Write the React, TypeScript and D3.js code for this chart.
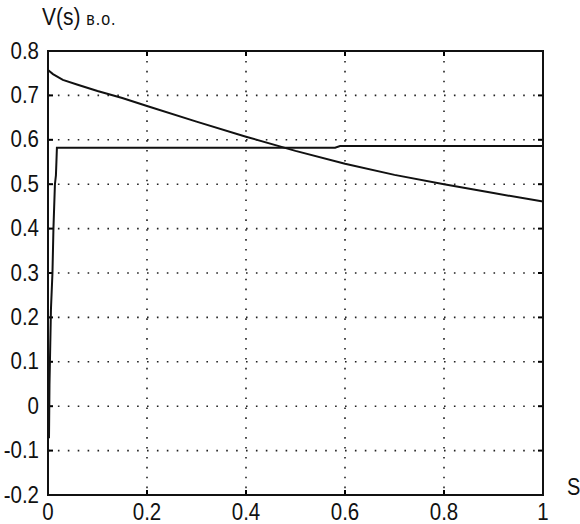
import React from "react";
import * as d3 from "d3";

const xTicks = [0, 0.2, 0.4, 0.6, 0.8, 1];
const yTicks = [-0.2, -0.1, 0, 0.1, 0.2, 0.3, 0.4, 0.5, 0.6, 0.7, 0.8];
const xTickLabels = ["0", "0.2", "0.4", "0.6", "0.8", "1"];
const yTickLabels = ["-0.2", "-0.1", "0", "0.1", "0.2", "0.3", "0.4", "0.5", "0.6", "0.7", "0.8"];

// falling curve
const fallS = [0, 0.01, 0.03, 0.06, 0.1, 0.15, 0.2, 0.3, 0.4, 0.5, 0.6, 0.7, 0.8, 0.9, 1.0];
const fallV = [0.757, 0.748, 0.735, 0.724, 0.71, 0.694, 0.676, 0.641, 0.607, 0.575, 0.546, 0.521, 0.5, 0.48, 0.461];

// rising (step) curve
const stepS = [0.002, 0.003, 0.006, 0.009, 0.011, 0.014, 0.016, 0.017, 0.018, 0.3, 0.58, 0.59, 1.0];
const stepV = [-0.072, 0.05, 0.22, 0.3, 0.4, 0.5, 0.52, 0.55, 0.582, 0.582, 0.582, 0.586, 0.586];

const W = 580;
const H = 524;
const L = 48, R = 543, T = 51, B = 495;

export default function App() {
  const x = d3.scaleLinear().domain([0, 1]).range([L, R]);
  const y = d3.scaleLinear().domain([-0.2, 0.8]).range([B, T]);
  const line = d3.line<[number, number]>().x((d) => x(d[0])).y((d) => y(d[1]));
  const fall = line(fallS.map((s, i) => [s, fallV[i]] as [number, number])) || "";
  const step = line(stepS.map((s, i) => [s, stepV[i]] as [number, number])) || "";
  const font = "'Liberation Sans', Arial, sans-serif";
  const fs = 20.5;
  return (
    <svg width={W} height={H} style={{ position: "absolute", left: 0, top: 0, background: "#fff" }}>
      <rect x={0} y={0} width={W} height={H} fill="#fff" />
      {/* grid */}
      {xTicks.slice(1, -1).map((t) => (
        <line key={"gx" + t} x1={x(t)} x2={x(t)} y1={T} y2={B} stroke="#222" strokeWidth={1.6} strokeDasharray="1.6 8.3" />
      ))}
      {yTicks.slice(1, -1).map((t) => (
        <line key={"gy" + t} x1={L} x2={R} y1={y(t)} y2={y(t)} stroke="#222" strokeWidth={1.6} strokeDasharray="1.6 8.3" />
      ))}
      {/* ticks */}
      {xTicks.map((t) => (
        <g key={"tx" + t}>
          <line x1={x(t)} x2={x(t)} y1={B} y2={B - 5} stroke="#000" strokeWidth={2} />
          <line x1={x(t)} x2={x(t)} y1={T} y2={T + 5} stroke="#000" strokeWidth={2} />
        </g>
      ))}
      {yTicks.map((t) => (
        <g key={"ty" + t}>
          <line x1={L} x2={L + 5} y1={y(t)} y2={y(t)} stroke="#000" strokeWidth={2} />
          <line x1={R} x2={R - 5} y1={y(t)} y2={y(t)} stroke="#000" strokeWidth={2} />
        </g>
      ))}
      {/* curves */}
      <path d={fall} fill="none" stroke="#111" strokeWidth={2} />
      <path d={step} fill="none" stroke="#111" strokeWidth={2} />
      {/* frame */}
      <rect x={L} y={T} width={R - L} height={B - T} fill="none" stroke="#111" strokeWidth={2} />
      {/* tick labels */}
      {yTicks.map((t, i) => (
        <text key={"ly" + t} transform={`translate(39,${y(t) + 7.5}) scale(1,1.15)`} textAnchor="end" fontFamily={font} fontSize={fs} fill="#111">
          {yTickLabels[i]}
        </text>
      ))}
      {xTicks.map((t, i) => (
        <text key={"lx" + t} transform={`translate(${x(t)},${B + 25}) scale(1,1.15)`} textAnchor="middle" fontFamily={font} fontSize={fs} fill="#111">
          {xTickLabels[i]}
        </text>
      ))}
      <text transform={`translate(42,25) scale(1,1.1)`} fontFamily={font} fontSize={21} fill="#111">
        V(s) <tspan fontSize={16} letterSpacing={1}>в.о.</tspan>
      </text>
      <text transform={`translate(567,495) scale(1,1.15)`} fontFamily={font} fontSize={20} fill="#111">
        S
      </text>
    </svg>
  );
}
